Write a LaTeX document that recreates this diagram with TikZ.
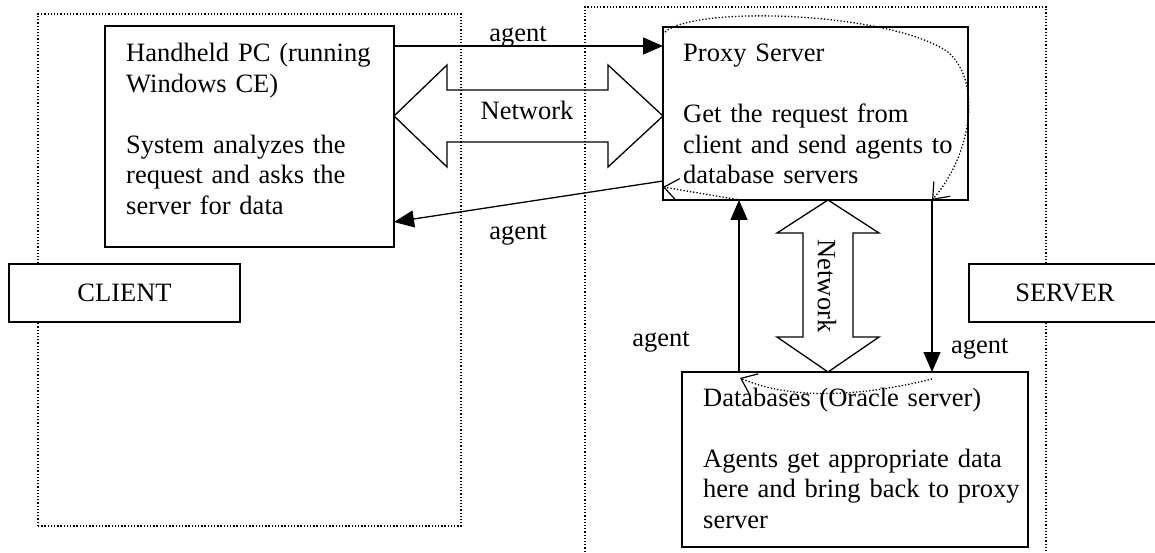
\documentclass[tikz,border=0pt]{standalone}
\usepackage{fontspec}
\setmainfont{Liberation Serif}
\usetikzlibrary{arrows.meta,calc}
\begin{document}
\begin{tikzpicture}[x=1pt,y=-1pt,
  every node/.style={font=\fontsize{26.5}{30.5}\selectfont},
  box/.style={draw,fill=white,line width=1.3pt,inner sep=0pt,outer sep=0pt,anchor=north west},
  frame/.style={draw,line width=1.3pt,dash pattern=on 1.3pt off 1.9pt,inner sep=0pt,outer sep=0pt,anchor=north west},
  txt/.style={anchor=base west,inner sep=0pt,text width=420pt,align=left},
  lbl/.style={inner sep=0pt},
  arr/.style={line width=1.3pt,-{Triangle[length=20pt,width=17pt]}},
  netarrow/.style={draw,line width=1.3pt,line join=miter},
  tour/.style={line width=1.3pt,dash pattern=on 1.3pt off 2pt,-{Straight Barb[length=14pt,width=22pt,line width=1.2pt]}}
]
\useasboundingbox (0,0) rectangle (1155,553);

% areas
\node[frame,minimum width=423pt,minimum height=512pt] (clientarea) at (38,14) {};
\node[frame,minimum width=461pt,minimum height=560pt] (serverarea) at (585,7) {};

% boxes
\node[box,minimum width=289pt,minimum height=221pt] (hh) at (105,26) {};
\node[box,minimum width=305pt,minimum height=173pt] (proxy) at (663,27) {};
\node[box,minimum width=346pt,minimum height=175pt] (db) at (682,372) {};
\node[box,minimum width=231pt,minimum height=58pt] (client) at (9,264) {};
\node[box,minimum width=192pt,minimum height=58pt] (server) at (969,264) {};
\node[lbl] (clienttxt) at (client.center) {CLIENT};
\node[lbl] (servertxt) at (server.center) {SERVER};

% texts
\node[txt] (hhtxt) at (126,62) {Handheld PC (running\\Windows CE)\\[30.5pt]System analyzes the\\request and asks the\\server for data};
\node[txt] (proxytxt) at (683,62) {Proxy Server\\[30.5pt]Get the request from\\client and send agents to\\database servers};
\node[txt] (dbtxt) at (703,406) {Databases (Oracle server)\\[30.5pt]Agents get appropriate data\\here and bring back to proxy\\server};

% agent arrows
\draw[arr] ([yshift=-20pt]hh.north east) -- ([yshift=-19pt]proxy.north west);
\draw[arr] ([yshift=-154pt]proxy.north west) -- ([yshift=-196pt]hh.north east);
\draw[arr] ([xshift=57pt]db.north west) -- ([xshift=76pt]proxy.south west);
\draw[arr] ([xshift=269pt]proxy.south west) -- ([xshift=250pt]db.north west);

\node[lbl,anchor=base] (ag1) at (518,42) {agent};
\node[lbl,anchor=base] (ag2) at (518,240) {agent};
\node[lbl,anchor=base east] (ag3) at (690,346) {agent};
\node[lbl,anchor=base west] (ag4) at (951,353) {agent};

% network double arrows
\coordinate (nl) at ([yshift=-90pt]hh.north east);
\coordinate (nr) at ([yshift=-89pt]proxy.north west);
\draw[netarrow] (nl) -- ++(53,-51) -- ++(0,25) -- ++(161,0) -- ++(0,-25) -- (nr)
  -- ++(-55,51) -- ++(0,-25) -- ++(-161,0) -- ++(0,25) -- cycle;
\node[lbl,anchor=base] (net1) at (527,120) {Network};

\coordinate (nt) at ([xshift=165pt]proxy.south west);
\coordinate (nb) at ([xshift=146pt]db.north west);
\draw[netarrow] (nt) -- ++(51,33) -- ++(-26,0) -- ++(0,104) -- ++(26,0) -- (nb)
  -- ++(-51,-35) -- ++(26,0) -- ++(0,-104) -- ++(-26,0) -- cycle;
\node[lbl,rotate=-90] (net2) at (827,286) {Network};

% dotted agent tour
\draw[tour] ([shift={(2pt,-5pt)}]proxy.north west) .. controls (695,5) and (890,12) .. (948,52)
  .. controls (985,85) and (968,160) .. ([xshift=269pt]proxy.south west);
\draw[tour] ([shift={(250pt,-7pt)}]db.north west) .. controls (880,392) and (800,404) .. ([shift={(58pt,-6pt)}]db.north west);
\draw[tour] ([xshift=77pt]proxy.south west) -- ([yshift=-160pt]proxy.north west);
\end{tikzpicture}
\end{document}
